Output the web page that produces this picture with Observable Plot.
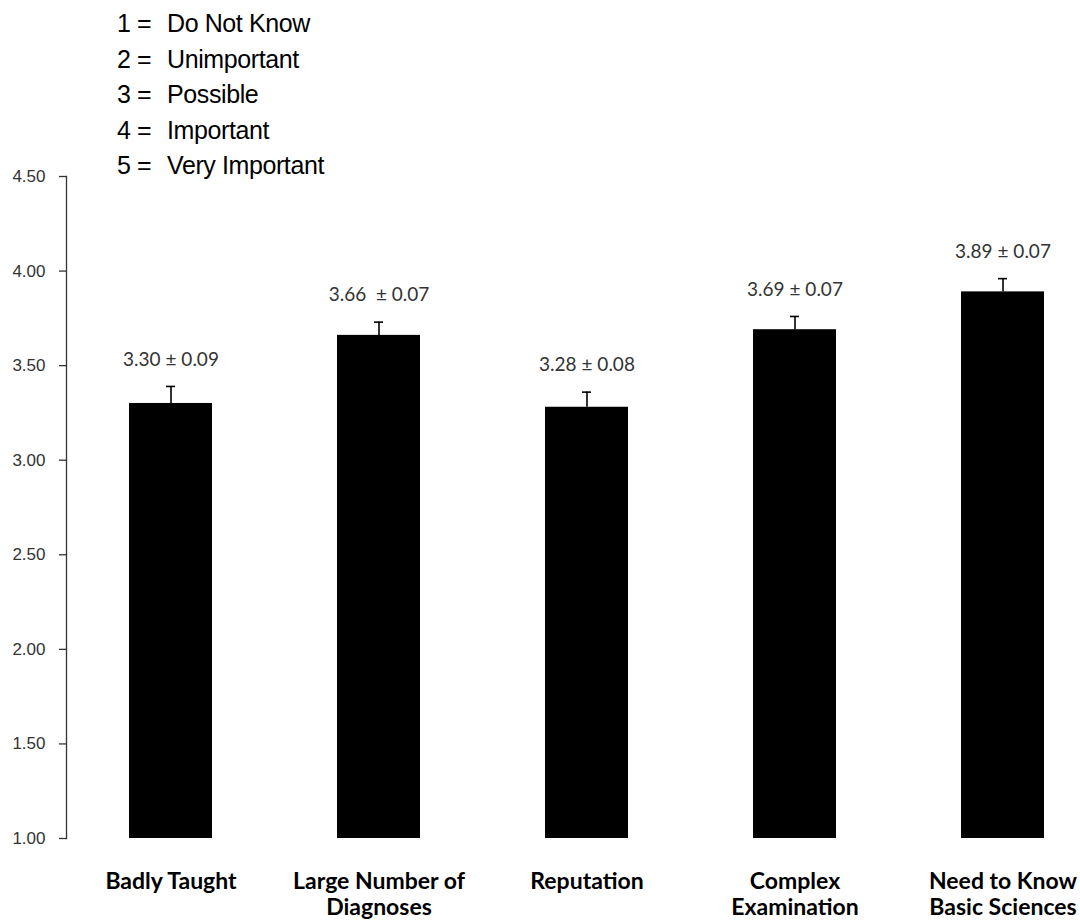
<!DOCTYPE html>
<html>
<head>
<meta charset="utf-8">
<script src="https://cdn.jsdelivr.net/npm/d3@7"></script>
<script src="https://cdn.jsdelivr.net/npm/@observablehq/plot@0.6"></script>
<style>
  html, body { margin: 0; padding: 0; background: #fff; }
  #wrap { width: 1080px; height: 921px; overflow: hidden; position: relative; }
  #legend { height: 170px; box-sizing: border-box; padding-top: 6px; padding-left: 117px;
            font-family: "Liberation Sans Narrow", "Liberation Sans", Arial, sans-serif; font-size: 25px;
            line-height: 35.5px; color: #000; letter-spacing: -0.4px; }
  #legend .code { display: inline-block; width: 50px; }
  svg { overflow: visible; display: block; }
</style>
</head>
<body>
<div id="wrap">
  <div id="legend"></div>
  <div id="chart"></div>
</div>
<script>
// ---- data ----
const categories = ["Badly Taught", "Large Number of Diagnoses", "Reputation", "Complex Examination", "Need to Know Basic Sciences"];
const categoryLabels = ["Badly Taught", "Large Number of\nDiagnoses", "Reputation", "Complex\nExamination", "Need to Know\nBasic Sciences"];
const means = [3.30, 3.66, 3.28, 3.69, 3.89];
const sems = [0.09, 0.07, 0.08, 0.07, 0.07];
const valueLabels = ["3.30 \u00b1 0.09", "3.66 \u00a0\u00b1 0.07", "3.28 \u00b1 0.08", "3.69 \u00b1 0.07", "3.89 \u00b1 0.07"];
const yTicks = [1.00, 1.50, 2.00, 2.50, 3.00, 3.50, 4.00, 4.50];
const legendCodes = ["1 =", "2 =", "3 =", "4 =", "5 ="];
const legendLabels = ["Do Not Know", "Unimportant", "Possible", "Important", "Very Important"];

// ---- legend ----
const legend = document.getElementById("legend");
legendCodes.forEach((c, i) => {
  const row = document.createElement("div");
  const a = document.createElement("span"); a.className = "code"; a.textContent = c;
  const b = document.createElement("span"); b.textContent = legendLabels[i];
  row.appendChild(a); row.appendChild(b);
  legend.appendChild(row);
});

// ---- chart ----
const data = categories.map((c, i) => ({category: c, label: categoryLabels[i], mean: means[i], sem: sems[i], text: valueLabels[i]}));
const yMin = yTicks[0];
const labelOf = new Map(categories.map((c, i) => [c, categoryLabels[i]]));

const chart = Plot.plot({
  width: 1080,
  height: 751,
  marginLeft: 66,
  marginRight: 0,
  marginTop: 6,
  marginBottom: 83,
  style: {background: "#fff", overflow: "visible", fontFamily: "'Liberation Sans', Arial, sans-serif"},
  x: {domain: categories, range: [66, 1108], paddingInner: 0.6, paddingOuter: 0.3},
  y: {domain: [yTicks[0], yTicks[yTicks.length - 1]]},
  marks: [
    Plot.barY(data, {x: "category", y1: () => yMin, y2: "mean", fill: "#000"}),
    Plot.ruleX(data, {x: "category", y1: "mean", y2: d => d.mean + d.sem, stroke: "#000", strokeWidth: 1.6}),
    Plot.tickY(data, {x: "category", y: d => d.mean + d.sem, stroke: "#000", strokeWidth: 1.6, insetLeft: 37, insetRight: 37}),
    Plot.text(data, {x: "category", y: d => d.mean + d.sem, text: "text", dy: -27, fontSize: 19, fill: "#333",
      fontFamily: "Lato, 'Open Sans', sans-serif"}),
    Plot.axisY({ticks: yTicks, tickFormat: d3.format(".2f"), tickSize: 7, tickPadding: 14, fontSize: 17,
      color: "#333", strokeWidth: 1.3, label: null}),
    Plot.frame({anchor: "left", stroke: "#333", strokeWidth: 1.3}),
    Plot.axisX({tickSize: 0, tickPadding: 32, tickFormat: d => labelOf.get(d), fontSize: 23, fontWeight: "bold",
      fontFamily: "Lato, 'Open Sans', sans-serif", lineHeight: 1.12, fill: "#000", label: null})
  ]
});
document.getElementById("chart").appendChild(chart);
</script>
</body>
</html>
